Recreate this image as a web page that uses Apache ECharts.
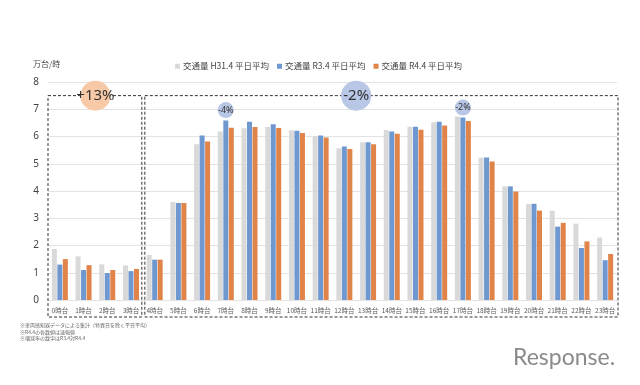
<!DOCTYPE html>
<html><head><meta charset="utf-8">
<script src="https://cdn.jsdelivr.net/npm/echarts@6/dist/echarts.min.js"></script>
<style>html,body{margin:0;padding:0;background:#fff}#c{width:640px;height:385px}</style>
</head><body><div id="c"></div>
<script>
const categories = ['0時台','1時台','2時台','3時台','4時台','5時台','6時台','7時台','8時台','9時台','10時台','11時台','12時台','13時台','14時台','15時台','16時台','17時台','18時台','19時台','20時台','21時台','22時台','23時台'];
const seriesNames = ['交通量 H31.4 平日平均','交通量 R3.4 平日平均','交通量 R4.4 平日平均'];
const h31 = [1.87,1.60,1.31,1.27,1.65,3.60,5.72,6.18,6.30,6.35,6.23,6.01,5.57,5.79,6.24,6.36,6.52,6.73,5.22,4.17,3.52,3.28,2.80,2.29];
const r3  = [1.30,1.10,0.99,1.06,1.48,3.56,6.04,6.59,6.54,6.45,6.21,6.04,5.63,5.79,6.18,6.36,6.54,6.70,5.23,4.17,3.53,2.69,1.91,1.46];
const r4  = [1.50,1.28,1.10,1.14,1.48,3.56,5.82,6.32,6.35,6.31,6.13,5.96,5.54,5.72,6.10,6.25,6.40,6.57,5.08,3.98,3.28,2.83,2.15,1.69];
const yTicks = [0,1,2,3,4,5,6,7,8];
// annotations: [label, category position (index, fractional), value, radius, colour, fontSize]
const notes = [
  ['+13%', 2.0, 7.5, 15, '#f7c9a6', 15],
  ['-2%', 13.0, 7.5, 15, '#b8c7e6', 15],
  ['-4%', 7.5, 6.97, 8, '#b8c7e6', 9],
  ['-2%', 17.5, 7.06, 8, '#b8c7e6', 9]
];
const boxes = [[0,4],[4,24]];
const colors = ['#d9d9d9','#6e98cf','#e0844a'];

const chart = echarts.init(document.getElementById('c'));
const txt = '#595959';
const mk = (name, data, i) => ({
  name, type:'bar', data, barWidth:5, barGap:'10%',
  itemStyle:{color:colors[i]}, emphasis:{disabled:true}
});
chart.setOption({
  animation:false,
  grid:{left:48,right:23,top:82,bottom:85},
  legend:{left:170,top:57,itemWidth:5,itemHeight:5,itemGap:8,icon:'rect',
    textStyle:{fontSize:8.5,color:'#444',fontFamily:'Noto Sans CJK JP',padding:[0,0,0,-2]}},
  xAxis:{type:'category',data:categories,
    axisLine:{show:false},axisTick:{show:false},
    axisLabel:{fontSize:6.5,color:txt,margin:7,interval:0,fontFamily:'Noto Sans CJK JP'}},
  yAxis:{type:'value',min:0,max:8,interval:1,
    axisLabel:{fontSize:10,color:'#444',margin:9,fontFamily:'Noto Sans'},
    splitLine:{lineStyle:{color:'#e3e3e3'}}},
  series:[mk(seriesNames[0],h31,0),mk(seriesNames[1],r3,1),mk(seriesNames[2],r4,2)]
});

const g = [];
const px = (c, v) => {
  const g0 = chart.getModel().getComponent('grid').coordinateSystem.getRect();
  const w = g0.width / categories.length;
  const x = g0.x + c * w;
  const y = chart.convertToPixel({yAxisIndex:0}, v);
  return [x, y];
};
const bottomY = 317;
boxes.forEach((b, i) => {
  const [x1, yt] = px(b[0], 7.5);
  const [x2] = px(b[1], 7.5);
  const off = i === 0 ? 0 : 2;
  const offR = i === 0 ? -1 : 1;
  g.push({type:'rect', shape:{x:x1+off, y:yt, width:(x2+offR)-(x1+off), height:bottomY-yt},
    style:{fill:null, stroke:'#333', lineWidth:1, lineDash:[3,2]}, z:10});
});
notes.forEach(n => {
  const [x, y] = px(n[1], n[2]);
  g.push({type:'circle', shape:{cx:x, cy:y, r:n[3]}, style:{fill:n[4]}, z:11});
  g.push({type:'text', x:x, y:y, style:{text:n[0], fill:'#333', fontSize:n[5],
    fontFamily:'Noto Sans', align:'center', verticalAlign:'middle'}, z:12});
});
g.push({type:'text', left:33, top:60, style:{text:'万台/時', fontSize:8, fill:'#444', fontFamily:'Noto Sans CJK JP'}});
g.push({type:'text', left:20, top:322, style:{text:'※車両感知器データによる集計（特異日を除く平日平均）\n※R4.4の各数値は速報値\n※増減率の数字はR3.4対R4.4',
  fontSize:5, lineHeight:6.5, fill:'#666', fontFamily:'Noto Sans CJK JP'}});
g.push({type:'text', left:513, top:346, style:{text:'Response.', fontSize:23, fill:'#8a8a8a', fontFamily:'Lato', fontWeight:'normal'}});
chart.setOption({graphic:g});
</script></body></html>
